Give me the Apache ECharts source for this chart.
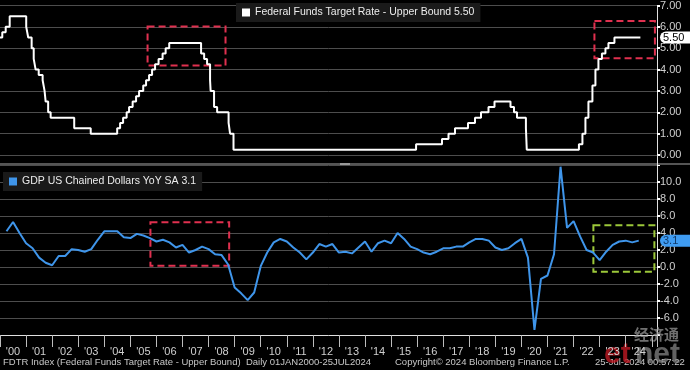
<!DOCTYPE html>
<html>
<head>
<meta charset="utf-8">
<script src="https://cdn.jsdelivr.net/npm/echarts@6/dist/echarts.min.js"></script>
<style>html,body{margin:0;padding:0;background:#000;}#c{width:690px;height:370px;}</style>
</head>
<body>
<div id="c"></div>
<script>
// ---- data ----
const rateName = 'Federal Funds Target Rate - Upper Bound';
const rateDates = ['2000-01-01','2000-02-02','2000-03-21','2000-05-16','2001-01-03','2001-01-31','2001-03-20','2001-04-18','2001-05-15','2001-06-27','2001-08-21','2001-09-17','2001-10-02','2001-11-06','2001-12-11','2002-11-06','2003-06-25','2004-06-30','2004-08-10','2004-09-21','2004-11-10','2004-12-14','2005-02-02','2005-03-22','2005-05-03','2005-06-30','2005-08-09','2005-09-20','2005-11-01','2005-12-13','2006-01-31','2006-03-28','2006-05-10','2006-06-29','2007-09-18','2007-10-31','2007-12-11','2008-01-22','2008-01-30','2008-03-18','2008-04-30','2008-10-08','2008-10-29','2008-12-16','2015-12-17','2016-12-15','2017-03-16','2017-06-15','2017-12-14','2018-03-22','2018-06-14','2018-09-27','2018-12-20','2019-08-01','2019-09-19','2019-10-31','2020-03-04','2020-03-16','2022-03-17','2022-05-05','2022-06-16','2022-07-28','2022-09-22','2022-11-03','2022-12-15','2023-02-02','2023-03-23','2023-05-04','2023-07-27','2024-07-25'];
const rateValues = [5.50,5.75,6.00,6.50,6.00,5.50,5.00,4.50,4.00,3.75,3.50,3.00,2.50,2.00,1.75,1.25,1.00,1.25,1.50,1.75,2.00,2.25,2.50,2.75,3.00,3.25,3.50,3.75,4.00,4.25,4.50,4.75,5.00,5.25,4.75,4.50,4.25,3.50,3.00,2.25,2.00,1.50,1.00,0.25,0.50,0.75,1.00,1.25,1.50,1.75,2.00,2.25,2.50,2.25,2.00,1.75,1.25,0.25,0.50,1.00,1.75,2.50,3.25,4.00,4.50,4.75,5.00,5.25,5.50,5.50];

const gdpName = 'GDP US Chained Dollars YoY SA';
const gdpStartYear = 2000; // first value is 2000 Q1, quarterly
const gdpValues = [
  4.2, 5.3, 4.0, 2.8,
  2.2, 1.1, 0.5, 0.2,
  1.3, 1.3, 2.1, 2.0,
  1.8, 2.1, 3.2, 4.2,
  4.2, 4.2, 3.5, 3.4,
  3.9, 3.7, 3.4, 3.0,
  3.2, 2.9, 2.3, 2.6,
  1.7, 2.0, 2.4, 2.1,
  1.5, 1.4, 0.3, -2.4,
  -3.1, -3.9, -3.0, 0.1,
  1.7, 2.9, 3.3, 3.0,
  2.3, 1.7, 0.9, 1.7,
  2.7, 2.4, 2.7, 1.7,
  1.8, 1.6, 2.3, 3.0,
  1.8, 2.8, 3.1, 2.8,
  4.0, 3.3, 2.4, 2.1,
  1.7, 1.5, 1.8, 2.2,
  2.2, 2.4, 2.4, 2.9,
  3.3, 3.3, 3.1, 2.3,
  2.0, 2.2, 2.8, 3.3,
  1.1, -7.4, -1.4, -1.0,
  1.5, 11.8, 4.6, 5.4,
  3.6, 2.0, 1.7, 0.8,
  1.8, 2.6, 3.0, 3.1,
  2.9, 3.1
];

const yearTicks = ['00','01','02','03','04','05','06','07','08','09','10','11','12','13','14','15','16','17','18','19','20','21','22','23','24'];

// highlight boxes [x1, y1, x2, y2] in data coordinates
const rateBoxes = [[2005.66, 6.02, 2008.65, 4.19], [2022.8, 6.27, 2025.12, 4.53]];
const gdpRedBoxes = [[2005.77, 5.27, 2008.79, 0.15]];
const gdpGreenBoxes = [[2022.76, 4.92, 2025.1, -0.55]];

// ---- helpers ----
function toYear(s) {
  const p = s.split('-').map(Number);
  const t = Date.UTC(p[0], p[1]-1, p[2]);
  const t0 = Date.UTC(p[0], 0, 1), t1 = Date.UTC(p[0]+1, 0, 1);
  return p[0] + (t - t0) / (t1 - t0);
}
const rateData = rateDates.map((d, i) => [toYear(d), rateValues[i]]);
const gdpData = gdpValues.map((v, i) => [gdpStartYear + (i + 1) / 4, v]);
const rateLast = rateValues[rateValues.length - 1];
const gdpLast = gdpValues[gdpValues.length - 1];

function boxes(list, color) {
  return list.map(b => [
    {coord: [b[0], b[1]], itemStyle: {color: 'rgba(0,0,0,0)', borderColor: color, borderWidth: 2, borderType: [7, 4]}},
    {coord: [b[2], b[3]]}
  ]);
}

const FONT = 'Liberation Sans, Arial, sans-serif';
const X_MIN = 2000, X_MAX = 2025.2;
const grid = [
  {left: 0, right: 33, top: 3, height: 152},
  {left: 0, right: 33, top: 165, bottom: 35}
];

const chart = echarts.init(document.getElementById('c'));
chart.setOption({
  animation: false,
  backgroundColor: '#000',
  textStyle: {fontFamily: FONT},
  grid: grid,
  legend: [
    {data: [rateName], left: 236, top: 3, backgroundColor: '#1a1a1a', padding: [4, 6, 4, 6],
     icon: 'rect', itemWidth: 8, itemHeight: 8, selectedMode: false,
     textStyle: {color: '#ececec', fontSize: 10.5, fontFamily: FONT},
     formatter: n => n + ' ' + rateLast.toFixed(2)},
    {data: [gdpName], left: 3, top: 172, backgroundColor: '#1a1a1a', padding: [4, 6, 4, 6],
     icon: 'rect', itemWidth: 8, itemHeight: 8, selectedMode: false,
     textStyle: {color: '#ececec', fontSize: 10.5, fontFamily: FONT},
     formatter: n => n + ' ' + gdpLast.toFixed(1)}
  ],
  xAxis: [
    {type: 'value', gridIndex: 0, min: X_MIN, max: X_MAX, show: false},
    {type: 'value', gridIndex: 1, min: X_MIN, max: X_MAX, interval: 1,
     axisLine: {show: true, onZero: false, lineStyle: {color: '#e0e0e0', width: 1}},
     axisTick: {show: true, length: 12, lineStyle: {color: '#bdbdbd'}},
     splitLine: {show: false},
     axisLabel: {color: '#cfcfcf', fontSize: 11, margin: 11, padding: [0, 0, 0, 26], align: 'center',
       showMaxLabel: true,
       formatter: v => {
         if (Math.abs(v - Math.round(v)) > 1e-6) return '';
         const idx = Math.round(v) - 2000;
         return (idx >= 0 && idx < yearTicks.length) ? "'" + yearTicks[idx] : '';
       }}}
  ],
  yAxis: [
    {type: 'value', gridIndex: 0, position: 'right', min: 0, max: 7, interval: 1,
     axisLine: {show: true, lineStyle: {color: '#e0e0e0'}},
     axisTick: {show: true, length: 3, lineStyle: {color: '#fff', width: 2}},
     splitLine: {lineStyle: {color: '#4d4d4d', width: 1}},
     axisLabel: {color: '#cfcfcf', fontSize: 11, margin: 3, formatter: v => v.toFixed(2)}},
    {type: 'value', gridIndex: 1, position: 'right', min: -8, max: 12, interval: 2,
     axisLine: {show: true, lineStyle: {color: '#e0e0e0'}},
     axisTick: {show: true, length: 3, lineStyle: {color: '#fff', width: 2}},
     splitLine: {lineStyle: {color: '#4d4d4d', width: 1}},
     axisLabel: {color: '#cfcfcf', fontSize: 11, margin: 3,
       formatter: v => (v >= 12 || v <= -8) ? '' : v.toFixed(1)}}
  ],
  series: [
    {name: rateName, type: 'line', xAxisIndex: 0, yAxisIndex: 0, step: 'end', data: rateData,
     clip: false, showSymbol: false, symbol: 'none', lineStyle: {color: '#ffffff', width: 2}, itemStyle: {color: '#ffffff'},
     z: 5,
     markLine: {silent: true, symbol: 'none', lineStyle: {color: 'rgba(0,0,0,0)', width: 0},
       data: [{yAxis: rateLast}],
       label: {show: true, position: 'end', distance: 3, formatter: () => rateLast.toFixed(2), backgroundColor: '#ffffff',
         color: '#000', fontSize: 11, fontFamily: FONT, padding: [1, 8, 0, 3], borderRadius: [6, 0, 0, 6]}},
     markArea: {silent: true, data: boxes(rateBoxes, '#e0304f')}},
    {name: gdpName, type: 'line', xAxisIndex: 1, yAxisIndex: 1, data: gdpData,
     clip: false, showSymbol: false, symbol: 'none', lineStyle: {color: '#3f95ea', width: 2}, itemStyle: {color: '#3f95ea'},
     z: 5,
     markLine: {silent: true, symbol: 'none', lineStyle: {color: 'rgba(0,0,0,0)', width: 0},
       data: [{yAxis: gdpLast}],
       label: {show: true, position: 'end', distance: 3, formatter: () => gdpLast.toFixed(1), backgroundColor: '#3f9cf2',
         color: '#123a6a', fontSize: 11, fontFamily: FONT, padding: [1, 16, 0, 3], borderRadius: [6, 0, 0, 6]}},
     markArea: {silent: true, data: boxes(gdpRedBoxes, '#e0304f').concat(boxes(gdpGreenBoxes, '#9cc83a'))}}
  ],
  graphic: [
    {type: 'rect', shape: {x: 0, y: 163, width: 690, height: 2}, style: {fill: '#555'}, z: 1},
    {type: 'line', shape: {x1: 340, y1: 164, x2: 350, y2: 164}, style: {stroke: '#ddd', lineWidth: 1}, z: 2},
    {type: 'line', shape: {x1: 657.5, y1: 155, x2: 657.5, y2: 165}, style: {stroke: '#e0e0e0', lineWidth: 1}, z: 2},
    {type: 'text', left: 3, top: 357, style: {text: 'FDTR Index (Federal Funds Target Rate - Upper Bound)  Daily 01JAN2000-25JUL2024', fill: '#c8c8c8', font: '9.5px ' + FONT}},
    {type: 'text', left: 395, top: 357, style: {text: 'Copyright\u00a9 2024 Bloomberg Finance L.P.', fill: '#c8c8c8', font: '9.5px ' + FONT}},
    {type: 'text', left: 595, top: 357, style: {text: '25-Jul-2024 00:57:22', fill: '#c8c8c8', font: '9.5px ' + FONT}},
    {type: 'text', left: 634, top: 327, style: {text: '经济通', fill: 'rgba(150,150,150,0.75)', font: 'bold 15px "Noto Sans CJK SC"'}, z: 10},
    {type: 'group', left: 604, top: 340, z: 10, children: [
      {type: 'text', x: 0, y: 0, style: {text: 'et', fill: 'rgba(190,25,35,0.8)', font: 'bold 30px ' + FONT}},
      {type: 'text', x: 31, y: 0, style: {text: 'net', fill: 'rgba(140,140,140,0.7)', font: 'bold 30px ' + FONT}}
    ]}
  ]
});
</script>
</body>
</html>
